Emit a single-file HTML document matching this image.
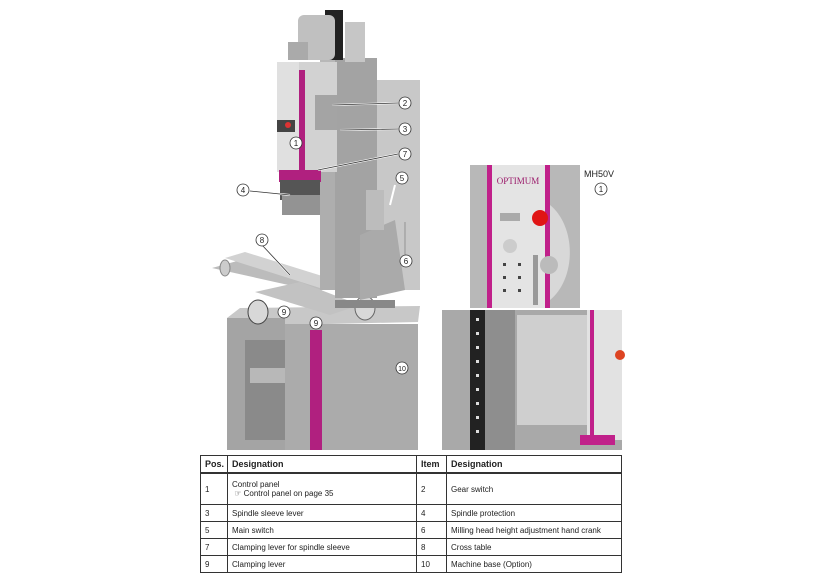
<!DOCTYPE html>
<html><head><meta charset="utf-8"><style>
body{margin:0;background:#fff;width:820px;height:580px;overflow:hidden;font-family:"Liberation Sans",sans-serif}
svg{position:absolute;left:0;top:0}
table{position:absolute;left:200px;top:455px;width:421px;border-collapse:collapse;font-size:8px;color:#222;table-layout:fixed}
td{border:1px solid #333;padding:0 4px;height:16px;white-space:nowrap;overflow:hidden}
th{border:1px solid #333;border-bottom:2px solid #333;text-align:left;padding:0 4px;height:16px;font-size:9px}
</style></head><body>
<svg width="820" height="580" viewBox="0 0 820 580">
<!-- base -->
<polygon points="227,318 240,308 420,306 418,322 285,325" fill="#c8c8c8"/>
<rect x="227" y="318" width="58" height="132" fill="#a4a4a4"/>
<rect x="245" y="340" width="40" height="100" fill="#8a8a8a"/>
<rect x="250" y="368" width="35" height="15" fill="#b8b8b8"/>
<rect x="285" y="324" width="133" height="126" fill="#ababab"/>
<rect x="310" y="330" width="12" height="120" fill="#b0207f"/>
<!-- cross table -->
<polygon points="212,268 255,256 330,282 320,292" fill="#bcbcbc"/>
<polygon points="225,258 245,252 335,280 320,288" fill="#d2d2d2"/>
<polygon points="255,292 300,282 360,305 330,315" fill="#c2c2c2"/>
<ellipse cx="258" cy="312" rx="10" ry="12" fill="#d8d8d8" stroke="#444"/>
<ellipse cx="365" cy="308" rx="10" ry="12" fill="#d8d8d8" stroke="#666"/>
<ellipse cx="225" cy="268" rx="5" ry="8" fill="#ccc" stroke="#888"/>
<!-- column -->
<rect x="335" y="300" width="60" height="8" fill="#888"/>
<rect x="320" y="170" width="57" height="120" fill="#aeaeae"/>
<rect x="345" y="165" width="7" height="115" fill="#222"/>
<rect x="320" y="58" width="40" height="112" fill="#b8b8b8"/>
<rect x="335" y="58" width="42" height="240" fill="#a3a3a3"/>
<rect x="377" y="80" width="43" height="210" fill="#c8c8c8"/>
<polygon points="360,235 395,220 405,290 360,300" fill="#aaa"/>
<rect x="366" y="190" width="18" height="40" fill="#bcbcbc"/>
<!-- belt/motor -->
<rect x="325" y="10" width="18" height="50" fill="#222"/>
<rect x="298" y="15" width="37" height="45" rx="6" fill="#c0c0c0"/>
<rect x="345" y="22" width="20" height="40" fill="#c6c6c6"/>
<rect x="288" y="42" width="20" height="18" fill="#aaa"/>
<!-- head -->
<rect x="277" y="62" width="60" height="110" fill="#d2d2d2"/>
<rect x="298" y="70" width="7" height="102" fill="#b0207f"/>
<rect x="277" y="62" width="22" height="110" fill="#e0e0e0"/>
<rect x="315" y="95" width="22" height="35" fill="#a4a4a4"/>
<rect x="279" y="170" width="42" height="12" fill="#b0207f"/>
<rect x="280" y="180" width="40" height="20" fill="#555"/>
<rect x="282" y="195" width="38" height="20" fill="#939393"/>
<rect x="277" y="120" width="18" height="12" fill="#444"/>
<circle cx="288" cy="125" r="3" fill="#d33"/>
<!-- leader lines -->
<g stroke="#fff" stroke-width="2" fill="none"><line x1="332" y1="105" x2="398" y2="103"/><line x1="340" y1="130" x2="398" y2="129"/><line x1="318" y1="170" x2="398" y2="154"/><line x1="250" y1="191" x2="290" y2="195"/><line x1="262" y1="245" x2="290" y2="275"/><line x1="395" y1="185" x2="390" y2="205"/><line x1="405" y1="222" x2="405" y2="255"/></g>
<g stroke="#333" stroke-width="0.8" fill="none"><line x1="332" y1="105" x2="398" y2="103"/><line x1="340" y1="130" x2="398" y2="129"/><line x1="318" y1="170" x2="398" y2="154"/><line x1="250" y1="191" x2="290" y2="195"/><line x1="262" y1="245" x2="290" y2="275"/><line x1="405" y1="222" x2="405" y2="255"/></g>
<g font-size="8" text-anchor="middle" fill="#222">
<g fill="#fff" stroke="#333" stroke-width="0.8">
<circle cx="405" cy="103" r="6"/><circle cx="405" cy="129" r="6"/><circle cx="405" cy="154" r="6"/><circle cx="296" cy="143" r="6"/><circle cx="243" cy="190" r="6"/><circle cx="402" cy="178" r="6"/><circle cx="406" cy="261" r="6"/><circle cx="262" cy="240" r="6"/><circle cx="284" cy="312" r="6"/><circle cx="316" cy="323" r="6"/><circle cx="402" cy="368" r="6"/><circle cx="601" cy="189" r="6"/><circle cx="497" cy="353" r="6"/><circle cx="497" cy="403" r="6"/></g>
<text x="405" y="106">2</text><text x="405" y="132">3</text><text x="405" y="157">7</text><text x="296" y="146">1</text><text x="243" y="193">4</text><text x="402" y="181">5</text><text x="406" y="264">6</text><text x="262" y="243">8</text><text x="284" y="315">9</text><text x="316" y="326">9</text><text x="402" y="371" font-size="7">10</text><text x="601" y="192">1</text><text x="497" y="356">9</text><text x="497" y="406">9</text>
</g>
<text x="584" y="177" font-size="9" fill="#222">MH50V</text>
<!-- inset 1 -->
<rect x="470" y="165" width="110" height="143" fill="#b8b8b8"/>
<rect x="487" y="165" width="63" height="143" fill="#e4e4e4"/>
<rect x="487" y="165" width="5" height="143" fill="#c0208a"/>
<rect x="545" y="165" width="5" height="143" fill="#c0208a"/>
<path d="M550,205 A40,55 0 0 1 550,300" fill="#d8d8d8"/>
<text x="518" y="184" font-size="9" font-family="Liberation Serif" text-anchor="middle" fill="#9a1a6a">OPTIMUM</text>
<rect x="500" y="213" width="20" height="8" fill="#aaa"/>
<circle cx="540" cy="218" r="8" fill="#e01515"/>
<circle cx="510" cy="246" r="7" fill="#ccc"/>
<circle cx="549" cy="265" r="9" fill="#bbb"/>
<rect x="533" y="255" width="5" height="50" fill="#999"/>
<g fill="#444"><rect x="503" y="263" width="3" height="3"/><rect x="518" y="263" width="3" height="3"/><rect x="503" y="276" width="3" height="3"/><rect x="518" y="276" width="3" height="3"/><rect x="503" y="289" width="3" height="3"/><rect x="518" y="289" width="3" height="3"/></g>
<!-- inset 2 -->
<rect x="442" y="310" width="180" height="140" fill="#a9a9a9"/>
<rect x="470" y="310" width="15" height="140" fill="#222"/>
<g fill="#ddd"><rect x="476" y="318" width="3" height="3"/><rect x="476" y="332" width="3" height="3"/><rect x="476" y="346" width="3" height="3"/><rect x="476" y="360" width="3" height="3"/><rect x="476" y="374" width="3" height="3"/><rect x="476" y="388" width="3" height="3"/><rect x="476" y="402" width="3" height="3"/><rect x="476" y="416" width="3" height="3"/><rect x="476" y="430" width="3" height="3"/></g>
<rect x="485" y="310" width="30" height="140" fill="#8e8e8e"/>
<rect x="517" y="315" width="70" height="110" fill="#cfcfcf"/>
<rect x="587" y="310" width="35" height="130" fill="#e2e2e2"/>
<rect x="590" y="310" width="4" height="130" fill="#c0208a"/>
<circle cx="620" cy="355" r="5" fill="#d42"/>
<rect x="580" y="435" width="35" height="10" fill="#c0208a"/>
</svg>
<table>
<colgroup><col style="width:27px"><col style="width:189px"><col style="width:30px"><col style="width:175px"></colgroup>
<tr><th>Pos.</th><th>Designation</th><th>Item</th><th>Designation</th></tr>
<tr><td style="height:30px">1</td><td>Control panel<br>&nbsp;☞ Control panel on page 35</td><td>2</td><td>Gear switch</td></tr>
<tr><td>3</td><td>Spindle sleeve lever</td><td>4</td><td>Spindle protection</td></tr>
<tr><td>5</td><td>Main switch</td><td>6</td><td>Milling head height adjustment hand crank</td></tr>
<tr><td>7</td><td>Clamping lever for spindle sleeve</td><td>8</td><td>Cross table</td></tr>
<tr><td>9</td><td>Clamping lever</td><td>10</td><td>Machine base (Option)</td></tr>
</table>
</body></html>
